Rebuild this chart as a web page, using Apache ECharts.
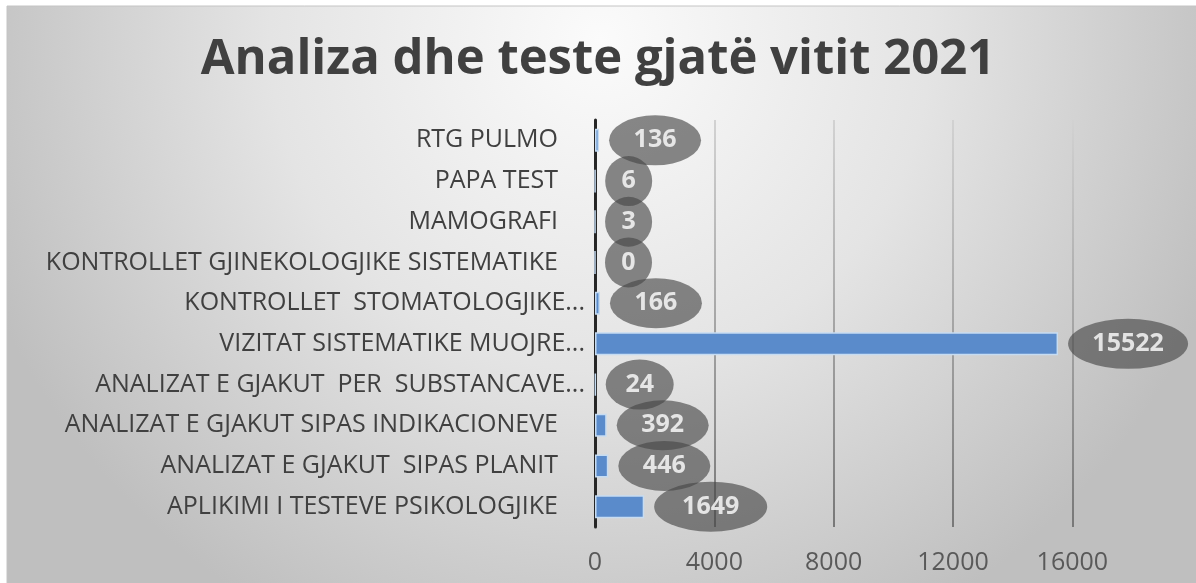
<!DOCTYPE html>
<html>
<head>
<meta charset="utf-8">
<title>Analiza dhe teste gjatë vitit 2021</title>
<script src="https://cdn.jsdelivr.net/npm/echarts@6/dist/echarts.min.js"></script>
<style>
  html, body { margin: 0; padding: 0; background: #fff; }
  #container { width: 1196px; height: 583px; }
</style>
</head>
<body>
<div id="container"></div>
<script>
// categories bottom -> top (category axis starts at the bottom)
var categories = [
    'APLIKIMI I TESTEVE PSIKOLOGJIKE',
    'ANALIZAT E GJAKUT  SIPAS PLANIT',
    'ANALIZAT E GJAKUT SIPAS INDIKACIONEVE',
    'ANALIZAT E GJAKUT  PER  SUBSTANCAVE...',
    'VIZITAT SISTEMATIKE MUOJRE...',
    'KONTROLLET  STOMATOLOGJIKE...',
    'KONTROLLET GJINEKOLOGJIKE SISTEMATIKE',
    'MAMOGRAFI',
    'PAPA TEST',
    'RTG PULMO'
];
var values = [1649, 446, 392, 24, 15522, 166, 0, 3, 6, 136];
var axisMax = 18000;
var axisStep = 4000;
var titleText = 'Analiza dhe teste gjatë vitit 2021';

// ellipse width by number of digits
var bubbleWidths = [0, 47, 68, 92, 113, 120];

var dom = document.getElementById('container');
var chart = echarts.init(dom, null, { renderer: 'canvas' });

var bubbleData = values.map(function (v, i) {
    var w = bubbleWidths[String(v).length];
    return {
        value: [v, categories[i]],
        symbolSize: [w, 50],
        symbolOffset: [w / 2 + 10, 0]
    };
});

var option = {
    animation: false,
    backgroundColor: '#ffffff',
    graphic: [
        {
            type: 'rect',
            z: -10,
            silent: true,
            shape: { x: 7, y: 6, width: 1195, height: 583 },
            style: {
                fill: {
                    type: 'radial', x: 600, y: 40, r: 660, global: true,
                    colorStops: [
                        { offset: 0, color: '#fbfbfb' },
                        { offset: 0.5, color: '#e4e4e4' },
                        { offset: 1, color: '#bfbfbf' }
                    ]
                },
                stroke: '#c4c4c4',
                lineWidth: 1
            }
        }
    ],
    title: {
        text: titleText,
        left: 'center',
        top: 31,
        textStyle: {
            fontFamily: 'Open Sans',
            fontWeight: 'bold',
            fontSize: 49,
            color: '#404040'
        }
    },
    grid: {
        left: 595,
        right: 64,
        top: 120,
        bottom: 56
    },
    xAxis: {
        type: 'value',
        min: 0,
        max: axisMax,
        interval: axisStep,
        axisLine: { show: false },
        axisTick: { show: false },
        axisLabel: {
            showMaxLabel: false,
            margin: 23,
            fontFamily: 'Open Sans',
            fontSize: 25,
            color: '#595959',
            formatter: function (v) {
                return String(v);
            }
        },
        splitLine: {
            show: true,
            showMinLine: false,
            showMaxLine: false,
            lineStyle: {
                width: 2,
                color: {
                    type: 'linear', x: 0, y: 120, x2: 0, y2: 527, global: true,
                    colorStops: [
                        { offset: 0, color: '#d2d2d2' },
                        { offset: 1, color: '#787878' }
                    ]
                }
            }
        }
    },
    yAxis: {
        type: 'category',
        data: categories,
        axisTick: { show: false },
        axisLine: {
            show: true,
            lineStyle: { color: '#262626', width: 3 }
        },
        axisLabel: {
            margin: 10,
            fontFamily: 'Open Sans',
            fontSize: 25,
            color: '#404040',
            formatter: function (val) {
                // Excel-truncated labels sit closer to the axis
                if (val.slice(-3) === '...') {
                    return val;
                }
                return '{n|' + val + '}';
            },
            rich: {
                n: {
                    fontFamily: 'Open Sans',
                    fontSize: 25,
                    color: '#404040',
                    padding: [0, 27, 0, 0]
                }
            }
        }
    },
    series: [
        {
            name: 'Analiza',
            type: 'bar',
            data: values,
            barWidth: 23,
            itemStyle: {
                color: '#5a8bcb',
                borderColor: '#c6dcf2',
                borderWidth: 1.5
            },
            z: 2
        },
        {
            name: 'Etiketa',
            type: 'scatter',
            data: bubbleData,
            symbol: 'circle',
            itemStyle: {
                color: 'rgba(70, 70, 70, 0.8)'
            },
            label: {
                show: true,
                position: 'inside',
                formatter: function (p) {
                    return p.value[0];
                },
                fontFamily: 'Open Sans',
                fontWeight: 'bold',
                fontSize: 25,
                color: '#ffffff'
            },
            z: 3
        }
    ]
};

chart.setOption(option);
window.addEventListener('resize', chart.resize);
</script>
</body>
</html>
